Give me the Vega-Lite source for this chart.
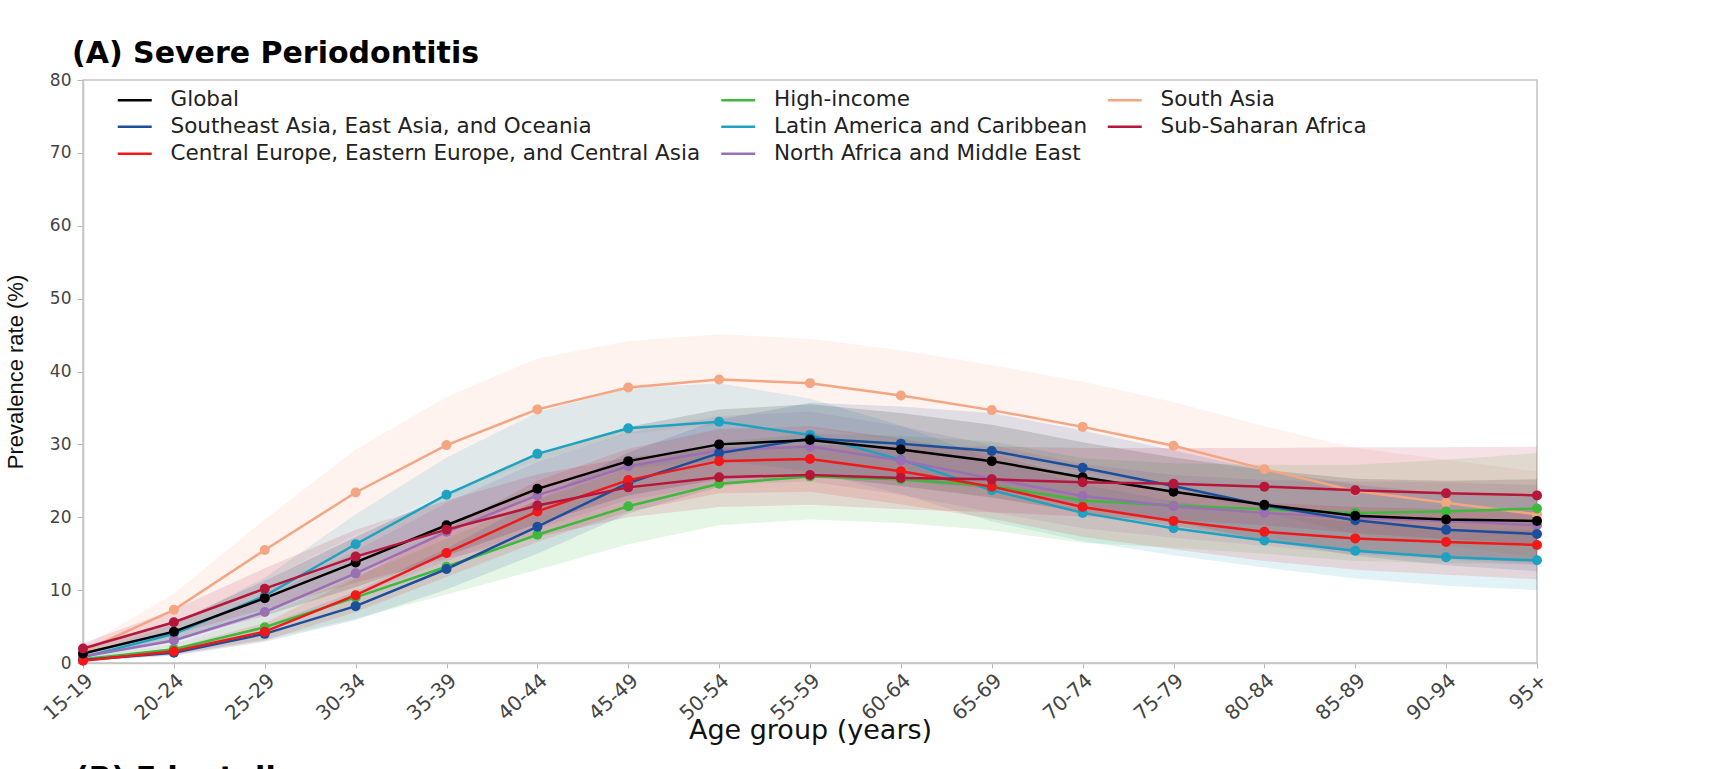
{
  "$schema": "https://vega.github.io/schema/vega-lite/v6.json",
  "width": 1454,
  "height": 583,
  "autosize": {"type": "none"},
  "padding": {"left": 83, "top": 80, "right": 176, "bottom": 106},
  "background": "white",
  "title": {
    "text": "(A) Severe Periodontitis",
    "anchor": "start",
    "frame": "group",
    "dx": -11,
    "dy": 32,
    "offset": 10,
    "baseline": "alphabetic",
    "font": "DejaVu Sans",
    "fontWeight": "bold",
    "fontSize": 30,
    "color": "#000000"
  },
  "config": {
    "view": {"stroke": "#c4c4c4", "strokeWidth": 1.5},
    "axis": {
      "grid": false,
      "domainColor": "#c4c4c4",
      "domainWidth": 1.5,
      "tickColor": "#b8b8b8",
      "labelFont": "DejaVu Sans",
      "labelColor": "#444444",
      "titleColor": "#111111",
      "titleFontWeight": "normal"
    }
  },
  "resolve": {"legend": {"color": "independent"}},
  "data": {
    "values": [
      {"region": "South Asia", "age": "15-19", "rate": 1.6, "lower": 1.0, "upper": 2.2},
      {"region": "South Asia", "age": "20-24", "rate": 7.3, "lower": 5.1, "upper": 9.5},
      {"region": "South Asia", "age": "25-29", "rate": 15.5, "lower": 11.3, "upper": 19.7},
      {"region": "South Asia", "age": "30-34", "rate": 23.4, "lower": 17.6, "upper": 29.3},
      {"region": "South Asia", "age": "35-39", "rate": 29.9, "lower": 23.3, "upper": 36.5},
      {"region": "South Asia", "age": "40-44", "rate": 34.8, "lower": 27.8, "upper": 41.8},
      {"region": "South Asia", "age": "45-49", "rate": 37.8, "lower": 31.4, "upper": 44.2},
      {"region": "South Asia", "age": "50-54", "rate": 38.9, "lower": 32.7, "upper": 45.1},
      {"region": "South Asia", "age": "55-59", "rate": 38.4, "lower": 32.3, "upper": 44.5},
      {"region": "South Asia", "age": "60-64", "rate": 36.7, "lower": 30.5, "upper": 42.9},
      {"region": "South Asia", "age": "65-69", "rate": 34.7, "lower": 28.5, "upper": 40.9},
      {"region": "South Asia", "age": "70-74", "rate": 32.4, "lower": 26.2, "upper": 38.6},
      {"region": "South Asia", "age": "75-79", "rate": 29.8, "lower": 23.8, "upper": 35.8},
      {"region": "South Asia", "age": "80-84", "rate": 26.6, "lower": 20.7, "upper": 32.5},
      {"region": "South Asia", "age": "85-89", "rate": 23.6, "lower": 17.7, "upper": 29.5},
      {"region": "South Asia", "age": "90-94", "rate": 22.0, "lower": 16.1, "upper": 27.9},
      {"region": "South Asia", "age": "95+", "rate": 20.4, "lower": 14.5, "upper": 26.3},

      {"region": "Latin America and Caribbean", "age": "15-19", "rate": 0.8, "lower": 0.5, "upper": 1.1},
      {"region": "Latin America and Caribbean", "age": "20-24", "rate": 4.0, "lower": 2.8, "upper": 5.2},
      {"region": "Latin America and Caribbean", "age": "25-29", "rate": 9.2, "lower": 6.7, "upper": 11.7},
      {"region": "Latin America and Caribbean", "age": "30-34", "rate": 16.3, "lower": 12.2, "upper": 20.4},
      {"region": "Latin America and Caribbean", "age": "35-39", "rate": 23.1, "lower": 18.0, "upper": 28.2},
      {"region": "Latin America and Caribbean", "age": "40-44", "rate": 28.7, "lower": 23.0, "upper": 34.4},
      {"region": "Latin America and Caribbean", "age": "45-49", "rate": 32.2, "lower": 26.7, "upper": 37.7},
      {"region": "Latin America and Caribbean", "age": "50-54", "rate": 33.1, "lower": 27.8, "upper": 38.4},
      {"region": "Latin America and Caribbean", "age": "55-59", "rate": 31.3, "lower": 26.3, "upper": 36.3},
      {"region": "Latin America and Caribbean", "age": "60-64", "rate": 27.9, "lower": 23.2, "upper": 32.6},
      {"region": "Latin America and Caribbean", "age": "65-69", "rate": 23.7, "lower": 19.4, "upper": 28.0},
      {"region": "Latin America and Caribbean", "age": "70-74", "rate": 20.6, "lower": 16.7, "upper": 24.5},
      {"region": "Latin America and Caribbean", "age": "75-79", "rate": 18.5, "lower": 14.8, "upper": 22.2},
      {"region": "Latin America and Caribbean", "age": "80-84", "rate": 16.8, "lower": 13.1, "upper": 20.5},
      {"region": "Latin America and Caribbean", "age": "85-89", "rate": 15.4, "lower": 11.6, "upper": 19.3},
      {"region": "Latin America and Caribbean", "age": "90-94", "rate": 14.5, "lower": 10.6, "upper": 18.4},
      {"region": "Latin America and Caribbean", "age": "95+", "rate": 14.1, "lower": 10.0, "upper": 18.2},

      {"region": "High-income", "age": "15-19", "rate": 0.5, "lower": 0.3, "upper": 0.7},
      {"region": "High-income", "age": "20-24", "rate": 1.9, "lower": 1.2, "upper": 2.6},
      {"region": "High-income", "age": "25-29", "rate": 4.9, "lower": 3.2, "upper": 6.6},
      {"region": "High-income", "age": "30-34", "rate": 9.0, "lower": 6.1, "upper": 11.9},
      {"region": "High-income", "age": "35-39", "rate": 13.2, "lower": 9.4, "upper": 17.0},
      {"region": "High-income", "age": "40-44", "rate": 17.6, "lower": 12.8, "upper": 22.4},
      {"region": "High-income", "age": "45-49", "rate": 21.5, "lower": 16.3, "upper": 26.7},
      {"region": "High-income", "age": "50-54", "rate": 24.6, "lower": 18.9, "upper": 30.3},
      {"region": "High-income", "age": "55-59", "rate": 25.6, "lower": 19.7, "upper": 31.5},
      {"region": "High-income", "age": "60-64", "rate": 25.2, "lower": 19.2, "upper": 31.2},
      {"region": "High-income", "age": "65-69", "rate": 24.3, "lower": 18.2, "upper": 30.4},
      {"region": "High-income", "age": "70-74", "rate": 22.3, "lower": 16.5, "upper": 28.1},
      {"region": "High-income", "age": "75-79", "rate": 21.6, "lower": 15.8, "upper": 27.4},
      {"region": "High-income", "age": "80-84", "rate": 21.1, "lower": 15.0, "upper": 27.2},
      {"region": "High-income", "age": "85-89", "rate": 20.6, "lower": 14.0, "upper": 27.2},
      {"region": "High-income", "age": "90-94", "rate": 20.8, "lower": 13.7, "upper": 27.9},
      {"region": "High-income", "age": "95+", "rate": 21.2, "lower": 13.6, "upper": 28.8},

      {"region": "North Africa and Middle East", "age": "15-19", "rate": 0.9, "lower": 0.6, "upper": 1.2},
      {"region": "North Africa and Middle East", "age": "20-24", "rate": 3.1, "lower": 2.2, "upper": 4.0},
      {"region": "North Africa and Middle East", "age": "25-29", "rate": 7.0, "lower": 5.1, "upper": 8.9},
      {"region": "North Africa and Middle East", "age": "30-34", "rate": 12.3, "lower": 9.2, "upper": 15.4},
      {"region": "North Africa and Middle East", "age": "35-39", "rate": 18.0, "lower": 14.0, "upper": 22.0},
      {"region": "North Africa and Middle East", "age": "40-44", "rate": 23.0, "lower": 18.4, "upper": 27.6},
      {"region": "North Africa and Middle East", "age": "45-49", "rate": 27.0, "lower": 22.4, "upper": 31.6},
      {"region": "North Africa and Middle East", "age": "50-54", "rate": 29.2, "lower": 24.5, "upper": 33.9},
      {"region": "North Africa and Middle East", "age": "55-59", "rate": 29.7, "lower": 24.9, "upper": 34.5},
      {"region": "North Africa and Middle East", "age": "60-64", "rate": 27.8, "lower": 23.1, "upper": 32.5},
      {"region": "North Africa and Middle East", "age": "65-69", "rate": 25.3, "lower": 20.7, "upper": 29.9},
      {"region": "North Africa and Middle East", "age": "70-74", "rate": 22.9, "lower": 18.5, "upper": 27.3},
      {"region": "North Africa and Middle East", "age": "75-79", "rate": 21.5, "lower": 17.2, "upper": 25.8},
      {"region": "North Africa and Middle East", "age": "80-84", "rate": 20.6, "lower": 16.1, "upper": 25.1},
      {"region": "North Africa and Middle East", "age": "85-89", "rate": 19.9, "lower": 14.9, "upper": 24.9},
      {"region": "North Africa and Middle East", "age": "90-94", "rate": 19.5, "lower": 14.2, "upper": 24.8},
      {"region": "North Africa and Middle East", "age": "95+", "rate": 18.9, "lower": 13.4, "upper": 24.4},

      {"region": "Southeast Asia, East Asia, and Oceania", "age": "15-19", "rate": 0.4, "lower": 0.3, "upper": 0.5},
      {"region": "Southeast Asia, East Asia, and Oceania", "age": "20-24", "rate": 1.4, "lower": 1.0, "upper": 1.8},
      {"region": "Southeast Asia, East Asia, and Oceania", "age": "25-29", "rate": 4.0, "lower": 2.9, "upper": 5.1},
      {"region": "Southeast Asia, East Asia, and Oceania", "age": "30-34", "rate": 7.8, "lower": 5.9, "upper": 9.8},
      {"region": "Southeast Asia, East Asia, and Oceania", "age": "35-39", "rate": 12.9, "lower": 10.1, "upper": 15.7},
      {"region": "Southeast Asia, East Asia, and Oceania", "age": "40-44", "rate": 18.7, "lower": 15.0, "upper": 22.4},
      {"region": "Southeast Asia, East Asia, and Oceania", "age": "45-49", "rate": 24.7, "lower": 20.5, "upper": 28.9},
      {"region": "Southeast Asia, East Asia, and Oceania", "age": "50-54", "rate": 28.8, "lower": 24.2, "upper": 33.4},
      {"region": "Southeast Asia, East Asia, and Oceania", "age": "55-59", "rate": 30.8, "lower": 25.9, "upper": 35.7},
      {"region": "Southeast Asia, East Asia, and Oceania", "age": "60-64", "rate": 30.1, "lower": 25.0, "upper": 35.2},
      {"region": "Southeast Asia, East Asia, and Oceania", "age": "65-69", "rate": 29.1, "lower": 23.9, "upper": 34.3},
      {"region": "Southeast Asia, East Asia, and Oceania", "age": "70-74", "rate": 26.8, "lower": 21.7, "upper": 31.9},
      {"region": "Southeast Asia, East Asia, and Oceania", "age": "75-79", "rate": 24.3, "lower": 19.4, "upper": 29.2},
      {"region": "Southeast Asia, East Asia, and Oceania", "age": "80-84", "rate": 21.6, "lower": 16.8, "upper": 26.4},
      {"region": "Southeast Asia, East Asia, and Oceania", "age": "85-89", "rate": 19.6, "lower": 14.7, "upper": 24.5},
      {"region": "Southeast Asia, East Asia, and Oceania", "age": "90-94", "rate": 18.3, "lower": 13.4, "upper": 23.2},
      {"region": "Southeast Asia, East Asia, and Oceania", "age": "95+", "rate": 17.7, "lower": 12.6, "upper": 22.8},

      {"region": "Central Europe, Eastern Europe, and Central Asia", "age": "15-19", "rate": 0.3, "lower": 0.2, "upper": 0.4},
      {"region": "Central Europe, Eastern Europe, and Central Asia", "age": "20-24", "rate": 1.6, "lower": 1.1, "upper": 2.1},
      {"region": "Central Europe, Eastern Europe, and Central Asia", "age": "25-29", "rate": 4.3, "lower": 3.1, "upper": 5.5},
      {"region": "Central Europe, Eastern Europe, and Central Asia", "age": "30-34", "rate": 9.3, "lower": 7.0, "upper": 11.6},
      {"region": "Central Europe, Eastern Europe, and Central Asia", "age": "35-39", "rate": 15.1, "lower": 11.8, "upper": 18.4},
      {"region": "Central Europe, Eastern Europe, and Central Asia", "age": "40-44", "rate": 20.8, "lower": 16.6, "upper": 25.0},
      {"region": "Central Europe, Eastern Europe, and Central Asia", "age": "45-49", "rate": 25.1, "lower": 20.8, "upper": 29.4},
      {"region": "Central Europe, Eastern Europe, and Central Asia", "age": "50-54", "rate": 27.7, "lower": 23.3, "upper": 32.1},
      {"region": "Central Europe, Eastern Europe, and Central Asia", "age": "55-59", "rate": 28.0, "lower": 23.5, "upper": 32.5},
      {"region": "Central Europe, Eastern Europe, and Central Asia", "age": "60-64", "rate": 26.3, "lower": 21.8, "upper": 30.8},
      {"region": "Central Europe, Eastern Europe, and Central Asia", "age": "65-69", "rate": 24.2, "lower": 19.8, "upper": 28.6},
      {"region": "Central Europe, Eastern Europe, and Central Asia", "age": "70-74", "rate": 21.4, "lower": 17.3, "upper": 25.5},
      {"region": "Central Europe, Eastern Europe, and Central Asia", "age": "75-79", "rate": 19.5, "lower": 15.6, "upper": 23.4},
      {"region": "Central Europe, Eastern Europe, and Central Asia", "age": "80-84", "rate": 18.0, "lower": 14.0, "upper": 22.0},
      {"region": "Central Europe, Eastern Europe, and Central Asia", "age": "85-89", "rate": 17.1, "lower": 12.8, "upper": 21.4},
      {"region": "Central Europe, Eastern Europe, and Central Asia", "age": "90-94", "rate": 16.6, "lower": 12.1, "upper": 21.1},
      {"region": "Central Europe, Eastern Europe, and Central Asia", "age": "95+", "rate": 16.2, "lower": 11.5, "upper": 20.9},

      {"region": "Global", "age": "15-19", "rate": 1.3, "lower": 0.8, "upper": 1.8},
      {"region": "Global", "age": "20-24", "rate": 4.3, "lower": 3.0, "upper": 5.6},
      {"region": "Global", "age": "25-29", "rate": 8.9, "lower": 6.5, "upper": 11.3},
      {"region": "Global", "age": "30-34", "rate": 13.8, "lower": 10.4, "upper": 17.3},
      {"region": "Global", "age": "35-39", "rate": 18.9, "lower": 14.7, "upper": 23.1},
      {"region": "Global", "age": "40-44", "rate": 23.9, "lower": 19.1, "upper": 28.7},
      {"region": "Global", "age": "45-49", "rate": 27.7, "lower": 23.0, "upper": 32.4},
      {"region": "Global", "age": "50-54", "rate": 30.0, "lower": 25.2, "upper": 34.8},
      {"region": "Global", "age": "55-59", "rate": 30.6, "lower": 25.7, "upper": 35.5},
      {"region": "Global", "age": "60-64", "rate": 29.3, "lower": 24.3, "upper": 34.3},
      {"region": "Global", "age": "65-69", "rate": 27.7, "lower": 22.7, "upper": 32.7},
      {"region": "Global", "age": "70-74", "rate": 25.5, "lower": 20.7, "upper": 30.3},
      {"region": "Global", "age": "75-79", "rate": 23.5, "lower": 18.8, "upper": 28.2},
      {"region": "Global", "age": "80-84", "rate": 21.7, "lower": 16.9, "upper": 26.5},
      {"region": "Global", "age": "85-89", "rate": 20.2, "lower": 15.2, "upper": 25.3},
      {"region": "Global", "age": "90-94", "rate": 19.7, "lower": 14.4, "upper": 25.0},
      {"region": "Global", "age": "95+", "rate": 19.5, "lower": 13.8, "upper": 25.2},

      {"region": "Sub-Saharan Africa", "age": "15-19", "rate": 2.0, "lower": 1.3, "upper": 2.7},
      {"region": "Sub-Saharan Africa", "age": "20-24", "rate": 5.6, "lower": 3.9, "upper": 7.3},
      {"region": "Sub-Saharan Africa", "age": "25-29", "rate": 10.2, "lower": 7.4, "upper": 13.0},
      {"region": "Sub-Saharan Africa", "age": "30-34", "rate": 14.6, "lower": 11.0, "upper": 18.3},
      {"region": "Sub-Saharan Africa", "age": "35-39", "rate": 18.3, "lower": 14.3, "upper": 22.3},
      {"region": "Sub-Saharan Africa", "age": "40-44", "rate": 21.6, "lower": 17.3, "upper": 25.9},
      {"region": "Sub-Saharan Africa", "age": "45-49", "rate": 24.1, "lower": 20.0, "upper": 28.2},
      {"region": "Sub-Saharan Africa", "age": "50-54", "rate": 25.5, "lower": 21.4, "upper": 29.6},
      {"region": "Sub-Saharan Africa", "age": "55-59", "rate": 25.8, "lower": 21.7, "upper": 29.9},
      {"region": "Sub-Saharan Africa", "age": "60-64", "rate": 25.4, "lower": 21.1, "upper": 29.7},
      {"region": "Sub-Saharan Africa", "age": "65-69", "rate": 25.2, "lower": 20.7, "upper": 29.7},
      {"region": "Sub-Saharan Africa", "age": "70-74", "rate": 24.8, "lower": 20.1, "upper": 29.5},
      {"region": "Sub-Saharan Africa", "age": "75-79", "rate": 24.6, "lower": 19.7, "upper": 29.5},
      {"region": "Sub-Saharan Africa", "age": "80-84", "rate": 24.2, "lower": 18.9, "upper": 29.5},
      {"region": "Sub-Saharan Africa", "age": "85-89", "rate": 23.7, "lower": 17.8, "upper": 29.6},
      {"region": "Sub-Saharan Africa", "age": "90-94", "rate": 23.3, "lower": 17.0, "upper": 29.6},
      {"region": "Sub-Saharan Africa", "age": "95+", "rate": 23.0, "lower": 16.3, "upper": 29.7}
    ]
  },
  "encoding": {
    "x": {
      "field": "age",
      "type": "ordinal",
      "sort": ["15-19", "20-24", "25-29", "30-34", "35-39", "40-44", "45-49", "50-54", "55-59", "60-64", "65-69", "70-74", "75-79", "80-84", "85-89", "90-94", "95+"],
      "scale": {"type": "point", "padding": 0},
      "axis": {
        "title": "Age group (years)",
        "labelAngle": -42,
        "labelAlign": "right",
        "labelBaseline": "top",
        "labelFontSize": 20,
        "labelPadding": 2,
        "tickSize": 5,
        "titleFont": "DejaVu Sans",
        "titleFontSize": 27,
        "titleBaseline": "alphabetic",
        "titleY": 75
      }
    }
  },
  "layer": [
    {
      "mark": {"type": "area", "opacity": 0.13},
      "encoding": {
        "y": {
          "field": "lower",
          "type": "quantitative",
          "title": "Prevalence rate (%)",
          "scale": {"domain": [0, 80], "nice": false}
        },
        "y2": {"field": "upper"},
        "color": {
          "field": "region",
          "type": "nominal",
          "legend": null,
          "scale": {
            "domain": ["Global", "Southeast Asia, East Asia, and Oceania", "Central Europe, Eastern Europe, and Central Asia", "High-income", "Latin America and Caribbean", "North Africa and Middle East", "South Asia", "Sub-Saharan Africa"],
            "range": ["#000000", "#1b4f9c", "#f01818", "#3dba3d", "#1da2c2", "#9b6fb4", "#f4a582", "#b5163a"]
          }
        }
      }
    },
    {
      "mark": {
        "type": "line",
        "strokeWidth": 2.5,
        "point": {"filled": true, "size": 100, "opacity": 1}
      },
      "encoding": {
        "y": {
          "field": "rate",
          "type": "quantitative",
          "title": "Prevalence rate (%)",
          "scale": {"domain": [0, 80], "nice": false},
          "axis": {
            "values": [0, 10, 20, 30, 40, 50, 60, 70, 80],
            "labelFontSize": 17,
            "labelPadding": 6,
            "tickSize": 6,
            "titleFont": "Liberation Sans",
            "titleFontSize": 22,
            "titlePadding": 22
          }
        },
        "color": {
          "field": "region",
          "type": "nominal",
          "scale": {
            "domain": ["Global", "Southeast Asia, East Asia, and Oceania", "Central Europe, Eastern Europe, and Central Asia", "High-income", "Latin America and Caribbean", "North Africa and Middle East", "South Asia", "Sub-Saharan Africa"],
            "range": ["#000000", "#1b4f9c", "#f01818", "#3dba3d", "#1da2c2", "#9b6fb4", "#f4a582", "#b5163a"]
          },
          "legend": {
            "title": null,
            "orient": "none",
            "legendX": 41,
            "legendY": 9,
            "columns": 3,
            "padding": 0,
            "symbolType": "M-2,0H2",
            "symbolSize": 289,
            "symbolStrokeWidth": 2.5,
            "labelFont": "DejaVu Sans",
            "labelFontSize": 21.5,
            "labelColor": "#222222",
            "labelLimit": 1000,
            "labelOffset": 25,
            "rowPadding": 4,
            "columnPadding": 14.5
          }
        }
      }
    },
    {
      "data": {"values": [{}]},
      "mark": {
        "type": "text",
        "align": "left",
        "baseline": "alphabetic",
        "dx": -8,
        "font": "DejaVu Sans",
        "fontWeight": "bold",
        "fontSize": 30,
        "color": "#000000"
      },
      "encoding": {
        "x": {"datum": "15-19"},
        "y": {"datum": -17.2},
        "text": {"value": "(B) Edentulism"}
      }
    }
  ]
}
